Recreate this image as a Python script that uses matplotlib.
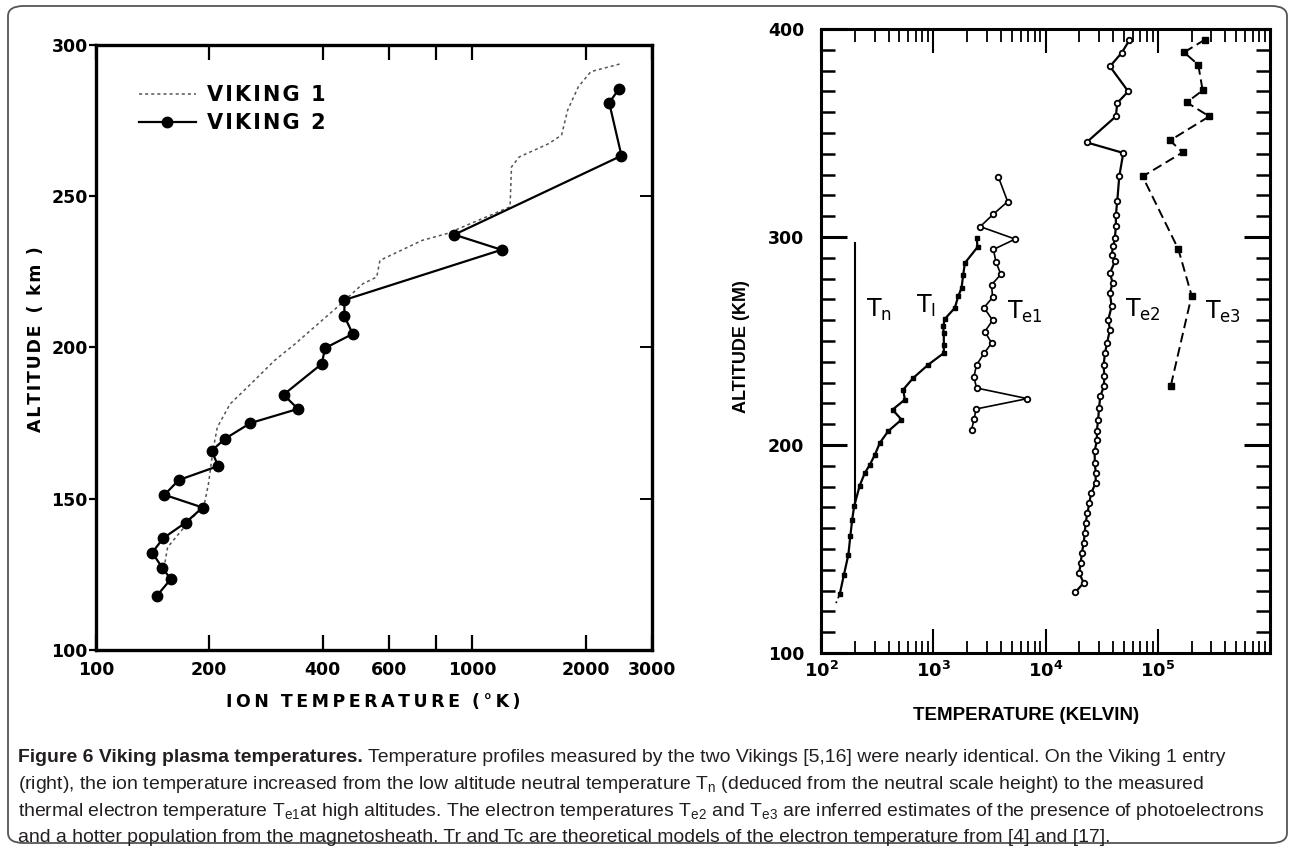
import matplotlib
matplotlib.use('Agg')
import matplotlib.pyplot as plt
from matplotlib.patches import FancyBboxPatch
from matplotlib.ticker import FixedLocator, NullFormatter, NullLocator, LogLocator
import numpy as np

# ---- left panel: ion temperature vs altitude (Viking 1 / Viking 2)
viking1_alt = [293.7, 291.2, 286.2, 278.5, 270.2, 267.4, 263.0, 259.7, 246.5, 237.7, 235.4,
               228.8, 223.3, 221.1, 213.4, 201.2, 195.7, 188.0, 181.3, 173.6, 165.9,
               155.0, 148.2, 140.0, 134.0, 128.0]
viking1_temp = [2460, 2064, 1912, 1791, 1725, 1595, 1332, 1270, 1259, 858, 735,
                568, 557, 512, 438, 338, 298, 258, 227, 210, 204.5,
                199, 194, 170, 155, 152]

viking2_alt = [285.3, 280.9, 263.4, 237.3, 232.3, 215.7, 210.3, 204.5, 199.8, 194.6, 184.4,
               179.7, 175.0, 169.8, 165.9, 160.8, 156.2, 151.3, 147.1, 142.1, 137.0,
               132.2, 127.2, 123.4, 117.9]
viking2_temp = [2445, 2309, 2489, 895, 1195, 457, 457, 481, 406, 398, 315,
                344, 257, 220, 203, 211, 166, 152, 192, 173, 151,
                141, 150, 158, 145]

left_xticks = [100, 200, 400, 600, 800, 1000, 2000, 3000]
left_xlabels = ['100', '200', '400', '600', '', '1000', '2000', '3000']
left_yticks = [100, 150, 200, 250, 300]

# ---- right panel: Viking 1 temperatures (log10 of kelvin) vs altitude
tn_alt = [297.0, 171.0]
tn_log = [2.301, 2.301]

ti_alt = [299.5, 295.2, 287.5, 281.9, 275.5, 271.4, 265.9, 260.6, 257.0, 253.8, 248.2, 244.2,
          238.6, 232.2, 226.6, 221.8, 217.0, 212.2, 206.6, 201.0, 195.3, 190.5, 186.5, 180.5,
          170.5, 164.1, 156.1, 147.3, 137.6, 128.5]
ti_log = [3.386, 3.395, 3.282, 3.267, 3.252, 3.222, 3.192, 3.103, 3.088, 3.094, 3.094, 3.094,
          2.955, 2.821, 2.732, 2.747, 2.637, 2.717, 2.598, 2.524, 2.480, 2.435, 2.390, 2.345,
          2.295, 2.278, 2.261, 2.244, 2.204, 2.168]
ti_tail_alt = [128.5, 124.0]
ti_tail_log = [2.168, 2.134]

te1_alt = [329.0, 317.0, 311.0, 305.0, 299.0, 294.0, 288.0, 282.0, 277.0, 271.0, 266.0,
           260.0, 254.5, 249.0, 244.0, 238.6, 232.7, 227.4, 222.3, 217.3, 212.5, 207.4]
te1_log = [3.579, 3.663, 3.536, 3.418, 3.730, 3.536, 3.559, 3.602, 3.519, 3.529, 3.452,
           3.529, 3.460, 3.520, 3.452, 3.386, 3.362, 3.386, 3.838, 3.380, 3.365, 3.341]

te2_alt = [394.5, 388.5, 382.0, 370.0, 364.4, 358.0, 345.5, 340.4, 329.1, 317.1, 310.7,
           305.1, 299.5, 295.5, 291.5, 288.3, 282.7, 277.9, 273.1, 266.6, 260.2, 255.4,
           249.0, 244.2, 238.6, 233.0, 228.2, 223.4, 217.8, 212.2, 206.6, 202.5, 196.9,
           191.3, 186.5, 181.7, 176.9, 172.1, 167.3, 162.5, 157.7, 152.9, 148.1, 143.3,
           138.5, 133.7, 129.3]
te2_log = [4.746, 4.678, 4.574, 4.737, 4.639, 4.627, 4.366, 4.693, 4.657, 4.639, 4.627,
           4.627, 4.618, 4.603, 4.589, 4.619, 4.574, 4.598, 4.574, 4.589, 4.559, 4.574,
           4.548, 4.530, 4.518, 4.524, 4.520, 4.488, 4.477, 4.469, 4.457, 4.459, 4.437,
           4.440, 4.447, 4.447, 4.407, 4.390, 4.374, 4.357, 4.350, 4.340, 4.324, 4.314,
           4.300, 4.340, 4.267]

te3_alt = [394.9, 388.8, 382.8, 370.5, 364.7, 358.0, 346.4, 340.7, 329.1, 294.2, 271.8, 228.2]
te3_log = [5.421, 5.234, 5.361, 5.400, 5.258, 5.459, 5.109, 5.222, 4.865, 5.183, 5.302, 5.115]

right_xticks = [1e2, 1e3, 1e4, 1e5]
right_xlabels = [r'$\mathregular{10^2}$', r'$\mathregular{10^3}$',
                 r'$\mathregular{10^4}$', r'$\mathregular{10^5}$']
right_yticks = [100, 200, 300, 400]

caption_bold = 'Figure 6 Viking plasma temperatures.'
caption_lines = [
    ' Temperature profiles measured by the two Vikings [5,16] were nearly identical. On the Viking 1 entry',
    '(right), the ion temperature increased from the low altitude neutral temperature T$_\\mathregular{n}$ '
    '(deduced from the neutral scale height) to the measured',
    'thermal electron temperature T$_\\mathregular{e1}$at high altitudes. The electron temperatures '
    'T$_\\mathregular{e2}$ and T$_\\mathregular{e3}$ are inferred estimates of the presence of photoelectrons',
    'and a hotter population from the magnetosheath. Tr and Tc are theoretical models of the electron '
    'temperature from [4] and [17].',
]

W, H = 1290, 846
SANS = ['Liberation Sans', 'DejaVu Sans']
BOLDF = ['DejaVu Sans']
THIN = '\u2009'
HAIR = '\u200a'

plt.rcParams['font.family'] = BOLDF
plt.rcParams['mathtext.default'] = 'regular'


def fx(px):
    return px / float(W)


def fy(py):
    return 1.0 - py / float(H)


def spaced(s, sep=THIN):
    return sep.join(s)


fig = plt.figure(figsize=(W / 100.0, H / 100.0), dpi=100)

# rounded frame around the whole figure
frame = FancyBboxPatch((fx(8), fy(843)), fx(1279), 837.0 / H,
                       boxstyle='round,pad=0,rounding_size=0.012',
                       transform=fig.transFigure, fill=False,
                       edgecolor='#555555', linewidth=1.3)
fig.patches.append(frame)

# ================= left panel
ax1 = fig.add_axes([fx(96), fy(650), fx(652 - 96), (650 - 45) / float(H)])
ax1.set_xscale('log')
ax1.set_xlim(100, 3000)
ax1.set_ylim(100, 300)

ax1.plot(viking1_temp, viking1_alt, color='#555555', lw=1.1, ls=(0, (2.0, 2.0)),
         label=spaced('VIKING 1', HAIR))
ax1.plot(viking2_temp, viking2_alt, color='black', lw=1.6, marker='o', ms=7.5,
         label=spaced('VIKING 2', HAIR))

ax1.xaxis.set_major_locator(FixedLocator(left_xticks))
ax1.xaxis.set_minor_locator(NullLocator())
ax1.xaxis.set_minor_formatter(NullFormatter())
ax1.set_xticklabels(left_xlabels)
ax1.set_yticks(left_yticks)
ax1.tick_params(axis='x', which='major', direction='in', length=11, width=1.6,
                top=True, bottom=True, pad=8, labelsize=12.5)
ax1.tick_params(axis='y', which='major', direction='out', length=5, width=1.6,
                left=True, right=False, pad=1, labelsize=12.5)
for lab in ax1.get_xticklabels() + ax1.get_yticklabels():
    lab.set_fontweight('bold')
# inward ticks on the right spine
for y in [150, 200, 250]:
    ax1.plot([2800, 3000], [y, y], color='black', lw=1.4, clip_on=False)
for s in ax1.spines.values():
    s.set_linewidth(2.4)

fig.text(fx(373), fy(702), spaced('ION') + '  ' + spaced('TEMPERATURE') + '  ' + spaced('(°K)'),
         fontsize=12.5, fontweight='bold', ha='center', va='center')
fig.text(fx(36), fy(339), spaced('ALTITUDE', HAIR) + '  ' + spaced('( km )', HAIR),
         fontsize=12.5, fontweight='bold', ha='center', va='center', rotation=90)

leg = ax1.legend(loc='upper left', bbox_to_anchor=(0.043, 0.965), frameon=False,
                 handlelength=2.75, handletextpad=0.55, labelspacing=0.4,
                 prop={'size': 15, 'weight': 'bold'})

# ================= right panel
ax2 = fig.add_axes([fx(821), fy(653), fx(1270 - 821), (653 - 29) / float(H)])
ax2.set_xscale('log')
ax2.set_xlim(1e2, 1e6)
ax2.set_ylim(100, 400)

ax2.plot(10 ** np.array(tn_log), tn_alt, color='black', lw=1.5)
ax2.plot(10 ** np.array(ti_log), ti_alt, color='black', lw=1.6, marker='s', ms=3.5)
ax2.plot(10 ** np.array(ti_tail_log), ti_tail_alt, color='black', lw=1.2, ls=(0, (3, 2)))
ax2.plot(10 ** np.array(te1_log), te1_alt, color='black', lw=1.2, marker='o', ms=4,
         mfc='white', mew=1.3)
ax2.plot(10 ** np.array(te2_log), te2_alt, color='black', lw=1.6, marker='o', ms=4,
         mfc='white', mew=1.3)
ax2.plot(10 ** np.array(te3_log), te3_alt, color='black', lw=1.4, ls=(0, (5, 2.5)),
         marker='s', ms=5)

ax2.set_xticks(right_xticks)
ax2.set_xticklabels(right_xlabels)
ax2.xaxis.set_minor_locator(LogLocator(base=10, subs=np.arange(2, 10), numticks=20))
ax2.xaxis.set_minor_formatter(NullFormatter())
ax2.set_yticks(right_yticks)
ax2.yaxis.set_minor_locator(FixedLocator(np.arange(100, 401, 10)))
ax2.tick_params(axis='x', which='major', direction='in', length=17, width=1.5,
                top=True, bottom=True, pad=6, labelsize=13)
ax2.tick_params(axis='x', which='minor', direction='in', length=9, width=1.3,
                top=True, bottom=True)
ax2.tick_params(axis='y', which='major', direction='in', length=19, width=2.2,
                left=True, right=True, pad=12, labelsize=12.5)
ax2.tick_params(axis='y', which='minor', direction='in', length=10, width=1.8,
                left=True, right=True)
for lab in ax2.get_xticklabels() + ax2.get_yticklabels():
    lab.set_fontweight('bold')
for s in ax2.spines.values():
    s.set_linewidth(2.2)

fig.text(fx(741), fy(347), 'ALTITUDE (KM)', fontsize=13, fontweight='bold',
         family=SANS, ha='center', va='center', rotation=90)
fig.text(fx(1026), fy(715), 'TEMPERATURE (KELVIN)', fontsize=13.5, fontweight='bold',
         family=SANS, ha='center', va='center')

# curve labels
lab_kw = dict(fontsize=17, family=['DejaVu Sans'], va='center')
ax2.text(10 ** 2.40, 265, r'$\mathregular{T_n}$', **lab_kw)
ax2.text(10 ** 2.85, 267, r'$\mathregular{T_I}$', **lab_kw)
ax2.text(10 ** 3.66, 264, r'$\mathregular{T_{e1}}$', **lab_kw)
ax2.text(10 ** 4.71, 265, r'$\mathregular{T_{e2}}$', **lab_kw)
ax2.text(10 ** 5.42, 264, r'$\mathregular{T_{e3}}$', **lab_kw)

# ================= caption (size fitted so the longest line spans the reference width)
cap_size = 13.0
probe = fig.text(0, 0, caption_lines[2], fontsize=cap_size, family=SANS)
fig.canvas.draw()
w = probe.get_window_extent().width
probe.remove()
cap_size = cap_size * (1241.0 / w)

cap_kw = dict(fontsize=cap_size, family=SANS, color='#231f20', va='baseline', ha='left')
line_y = [762, 789, 816, 842]
t0 = fig.text(fx(18), fy(line_y[0]), caption_bold, fontweight='bold', **cap_kw)
fig.canvas.draw()
bb = t0.get_window_extent()
fig.text(bb.x1 / W, fy(line_y[0]), caption_lines[0], **cap_kw)
for i in range(1, 4):
    fig.text(fx(18), fy(line_y[i]), caption_lines[i], **cap_kw)

fig.savefig('out.png', dpi=100)
